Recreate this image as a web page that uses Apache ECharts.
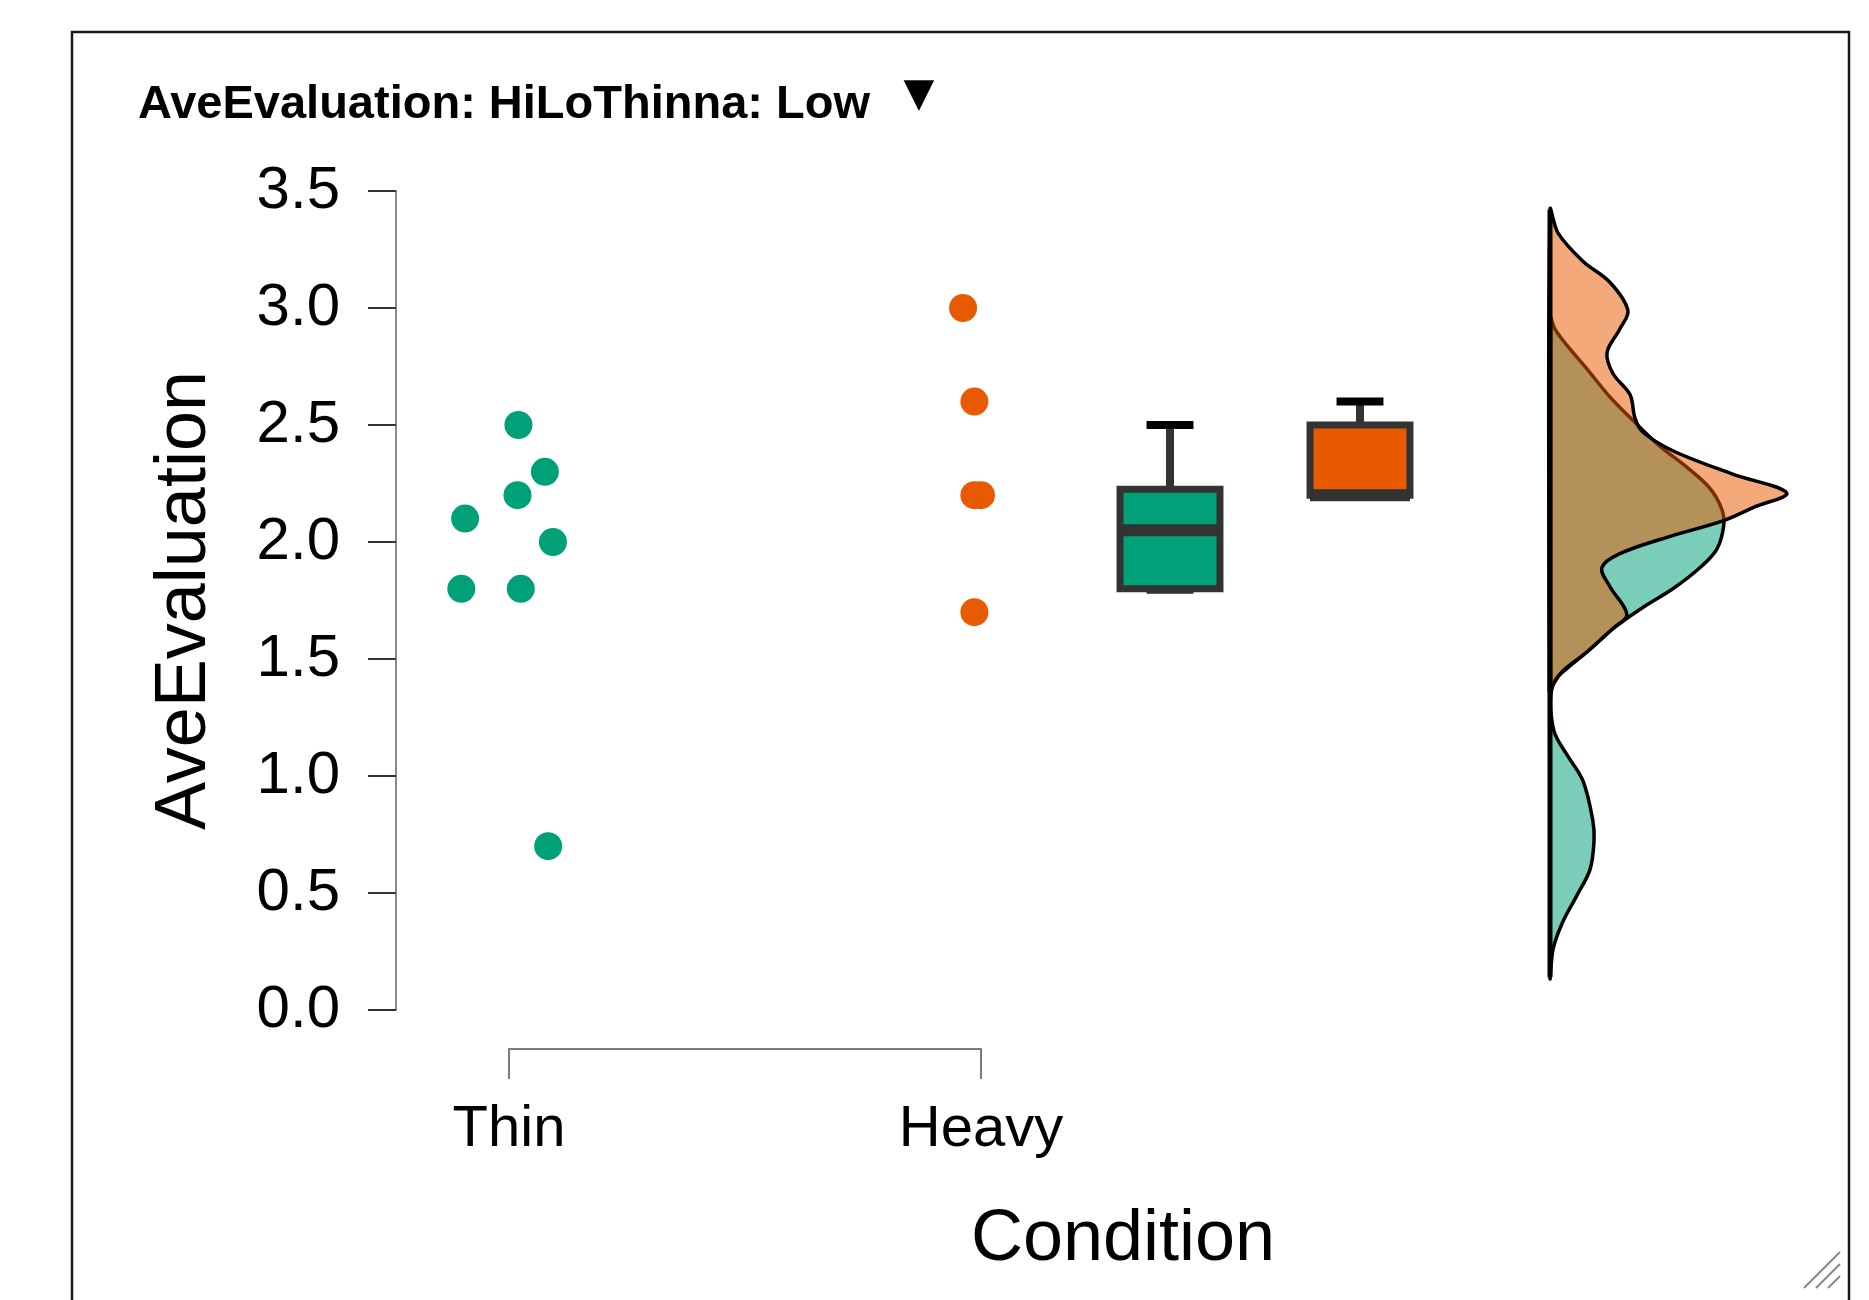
<!DOCTYPE html>
<html>
<head>
<meta charset="utf-8">
<script src="https://cdn.jsdelivr.net/npm/echarts@6/dist/echarts.min.js"></script>
<style>
html, body { margin: 0; padding: 0; background: #fff; }
#chart { width: 1869px; height: 1300px; }
</style>
</head>
<body>
<div id="chart"></div>
<script>
// groups on the x axis
var categories = ['Thin', 'Heavy']
var groupColors = ['#00A078', '#E85A00']
var densityFills = ['rgba(0,160,120,0.52)', 'rgba(232,90,0,0.52)']

var thinValues = [2.5, 2.3, 2.2, 2.1, 2.0, 1.8, 1.8, 0.7]
var thinJitter = [0.02, 0.076, 0.018, -0.093, 0.093, -0.101, 0.025, 0.083]
var heavyValues = [3.0, 2.6, 2.2, 2.2, 1.7]
var heavyJitter = [-0.038, -0.014, -0.014, 0, -0.014]

// boxplot stats: [min, q1, median, q3, max]
var thinBox = [1.8, 1.8, 2.05, 2.225, 2.5]
var heavyBox = [2.2, 2.2, 2.2, 2.5, 2.6]

// density outlines: [AveEvaluation, relative density]
var thinDensity = [
    [2.96, 0], [2.91, 0.021], [2.84, 0.072], [2.74, 0.156], [2.62, 0.253],
    [2.52, 0.35], [2.41, 0.464], [2.32, 0.578], [2.23, 0.675], [2.14, 0.726],
    [2.07, 0.734], [1.97, 0.705], [1.89, 0.633], [1.80, 0.519], [1.72, 0.392],
    [1.63, 0.266], [1.53, 0.156], [1.46, 0.072], [1.41, 0.021], [1.35, 0.004],
    [1.27, 0.004], [1.18, 0.021], [1.09, 0.072], [0.98, 0.139], [0.81, 0.181],
    [0.72, 0.186], [0.60, 0.169], [0.49, 0.114], [0.37, 0.051], [0.26, 0.013],
    [0.14, 0]
]
var heavyDensity = [
    [3.42, 0], [3.32, 0.034], [3.20, 0.139], [3.11, 0.253], [2.99, 0.329],
    [2.91, 0.295], [2.81, 0.241], [2.72, 0.266], [2.63, 0.338], [2.53, 0.359],
    [2.47, 0.392], [2.39, 0.519], [2.29, 0.772], [2.21, 1.0], [2.15, 0.865],
    [2.09, 0.73], [2.02, 0.494], [1.95, 0.295], [1.89, 0.219], [1.81, 0.253],
    [1.69, 0.325], [1.63, 0.266], [1.53, 0.156], [1.45, 0.055], [1.39, 0.013],
    [1.36, 0]
]
var densities = [thinDensity, heavyDensity]

var boxWidth = 0.526
var capWidth = 0.247

function jittered(values, jitter, slot) {
    var out = []
    for (var i in values) {
        out.push([slot + jitter[i], values[i]])
    }
    return out
}

function renderBox(params, api) {
    var x = api.value(0)
    var lo = api.coord([x, api.value(1)])
    var q1 = api.coord([x, api.value(2)])
    var med = api.coord([x, api.value(3)])
    var q3 = api.coord([x, api.value(4)])
    var hi = api.coord([x, api.value(5)])
    var bw = api.size([boxWidth, 0])[0]
    var cw = api.size([capWidth, 0])[0]
    var color = groupColors[params.dataIndex]
    return {
        type: 'group',
        children: [
            { type: 'line', shape: { x1: hi[0], y1: hi[1], x2: q3[0], y2: q3[1] }, style: { stroke: '#333', lineWidth: 8 } },
            { type: 'line', shape: { x1: lo[0], y1: lo[1], x2: q1[0], y2: q1[1] }, style: { stroke: '#333', lineWidth: 8 } },
            { type: 'line', shape: { x1: hi[0] - cw / 2, y1: hi[1], x2: hi[0] + cw / 2, y2: hi[1] }, style: { stroke: '#000', lineWidth: 8 } },
            { type: 'line', shape: { x1: lo[0] - cw / 2, y1: lo[1] + 1, x2: lo[0] + cw / 2, y2: lo[1] + 1 }, style: { stroke: '#333', lineWidth: 8 } },
            { type: 'rect', shape: { x: q3[0] - bw / 2, y: q3[1], width: bw, height: q1[1] - q3[1] }, style: { fill: color, stroke: '#333', lineWidth: 7 } },
            { type: 'line', shape: { x1: med[0] - bw / 2, y1: med[1], x2: med[0] + bw / 2, y2: med[1] }, style: { stroke: '#333', lineWidth: 12 } }
        ]
    }
}

function renderDensity(params, api) {
    var dens = densities[params.dataIndex]
    var pts = []
    for (var i in dens) {
        pts.push(api.coord([dens[i][1], dens[i][0]]))
    }
    var top = pts[0]
    var bottom = pts[pts.length - 1]
    return {
        type: 'group',
        children: [
            {
                type: 'polygon',
                shape: { points: pts, smooth: 0.35 },
                style: { fill: densityFills[params.dataIndex], stroke: '#000', lineWidth: 3.5 }
            },
            {
                type: 'line',
                shape: { x1: top[0], y1: top[1], x2: bottom[0], y2: bottom[1] },
                style: { stroke: '#000', lineWidth: 5 }
            }
        ]
    }
}

var yBase = { min: 0, max: 3.5, interval: 0.5 }
var hiddenAxis = { show: false }

var chart = echarts.init(document.getElementById('chart'))
var option = {
    animation: false,
    backgroundColor: '#fff',
    title: {
        text: 'AveEvaluation: HiLoThinna: Low',
        left: 133,
        top: 77,
        textStyle: { fontFamily: 'Liberation Sans', fontWeight: 'bold', fontSize: 47, color: '#000' }
    },
    grid: [
        { left: 509, top: 191, width: 472, height: 819, outerBoundsMode: 'none' },
        { left: 1075, top: 191, width: 380, height: 819, outerBoundsMode: 'none' },
        { left: 1550, top: 191, width: 284, height: 819, outerBoundsMode: 'none' }
    ],
    xAxis: [
        {
            gridIndex: 0, type: 'value', min: 1, max: 2, interval: 1, offset: 39,
            splitLine: { show: false },
            axisLine: { show: true, onZero: false, lineStyle: { color: '#7a7a7a', width: 2 } },
            axisTick: { show: true, length: 30, lineStyle: { color: '#7a7a7a', width: 2 } },
            axisLabel: {
                margin: 52, fontSize: 58, fontFamily: 'Liberation Sans', color: '#000',
                formatter: function (v) { return categories[v - 1] }
            }
        },
        Object.assign({ gridIndex: 1, type: 'value', min: 0.5, max: 2.5 }, hiddenAxis),
        Object.assign({ gridIndex: 2, type: 'value', min: 0, max: 1.2 }, hiddenAxis)
    ],
    yAxis: [
        Object.assign({
            gridIndex: 0, type: 'value', offset: 113,
            name: 'AveEvaluation', nameLocation: 'middle', nameGap: 175,
            nameTextStyle: { fontSize: 72, fontFamily: 'Liberation Sans', color: '#000' },
            splitLine: { show: false },
            axisLine: { show: true, lineStyle: { color: '#8a8a8a', width: 2 } },
            axisTick: { show: true, length: 28, lineStyle: { color: '#333', width: 2 } },
            axisLabel: {
                margin: 56, fontSize: 60, fontFamily: 'Liberation Sans', color: '#000',
                formatter: function (v) { return v.toFixed(1) }
            }
        }, yBase),
        Object.assign({ gridIndex: 1, type: 'value' }, yBase, hiddenAxis),
        Object.assign({ gridIndex: 2, type: 'value' }, yBase, hiddenAxis)
    ],
    series: [
        {
            type: 'custom', xAxisIndex: 2, yAxisIndex: 2,
            renderItem: renderDensity, clip: false,
            data: [[0], [1]]
        },
        {
            type: 'custom', xAxisIndex: 1, yAxisIndex: 1,
            renderItem: renderBox, clip: false,
            data: [[1].concat(thinBox), [2].concat(heavyBox)]
        },
        {
            name: categories[0], type: 'scatter', xAxisIndex: 0, yAxisIndex: 0, clip: false,
            symbolSize: 28, itemStyle: { color: groupColors[0], opacity: 1 },
            data: jittered(thinValues, thinJitter, 1)
        },
        {
            name: categories[1], type: 'scatter', xAxisIndex: 0, yAxisIndex: 0, clip: false,
            symbolSize: 28, itemStyle: { color: groupColors[1], opacity: 1 },
            data: jittered(heavyValues, heavyJitter, 2)
        }
    ],
    graphic: [
        { type: 'rect', shape: { x: 72, y: 32, width: 1777, height: 1300 }, style: { fill: 'none', stroke: '#1a1a1a', lineWidth: 2.5 }, silent: true },
        { type: 'text', x: 919, y: 96, style: { text: '▼', font: '40px DejaVu Sans', fill: '#000', align: 'center', verticalAlign: 'middle' } },
        { type: 'text', x: 1123, y: 1240, style: { text: 'Condition', font: '72px Liberation Sans', fill: '#000', align: 'center', verticalAlign: 'middle' } },
        { type: 'line', shape: { x1: 1804, y1: 1288, x2: 1840, y2: 1252 }, style: { stroke: '#888', lineWidth: 2 } },
        { type: 'line', shape: { x1: 1816, y1: 1288, x2: 1840, y2: 1264 }, style: { stroke: '#888', lineWidth: 2 } },
        { type: 'line', shape: { x1: 1828, y1: 1288, x2: 1840, y2: 1276 }, style: { stroke: '#888', lineWidth: 2 } }
    ]
}
chart.setOption(option)
</script>
</body>
</html>
